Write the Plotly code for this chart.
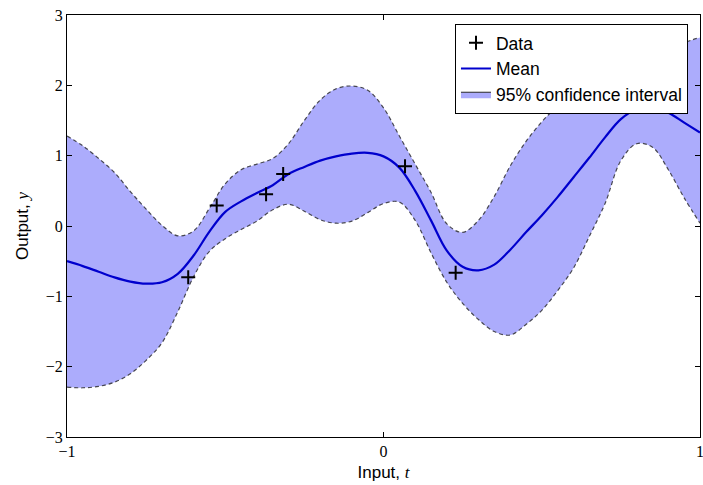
import plotly.graph_objects as go

# Grid of inputs at which curves were read
t_grid = [-1.00, -0.95, -0.90, -0.85, -0.80, -0.75, -0.70, -0.65, -0.60, -0.55,
          -0.50, -0.45, -0.40, -0.35, -0.30, -0.25, -0.20, -0.15, -0.10, -0.05,
          0.00, 0.05, 0.10, 0.15, 0.20, 0.25, 0.30, 0.35, 0.40, 0.45,
          0.50, 0.55, 0.60, 0.65, 0.70, 0.75, 0.80, 0.85, 0.90, 0.95, 1.00]

mean_vals = [-0.50, -0.57, -0.65, -0.73, -0.79, -0.82, -0.80, -0.68, -0.42, -0.08,
             0.20, 0.35, 0.47, 0.58, 0.74, 0.84, 0.93, 0.99, 1.03, 1.04,
             0.99, 0.83, 0.50, 0.08, -0.35, -0.58, -0.63, -0.55, -0.34, -0.09,
             0.15, 0.41, 0.69, 0.97, 1.26, 1.52, 1.66, 1.69, 1.61, 1.47, 1.33]

upper_vals = [1.28, 1.14, 0.96, 0.76, 0.49, 0.24, 0.01, -0.14, -0.07, 0.25,
              0.60, 0.80, 0.88, 0.96, 1.17, 1.50, 1.79, 1.95, 1.99, 1.93,
              1.68, 1.28, 0.88, 0.48, 0.03, -0.09, 0.08, 0.42, 0.85, 1.20,
              1.48, 1.72, 2.02, 2.11, 2.19, 2.12, 2.14, 2.24, 2.44, 2.60, 2.68]

lower_vals = [-2.29, -2.30, -2.28, -2.22, -2.10, -1.91, -1.66, -1.22, -0.72, -0.36,
              -0.18, -0.05, 0.07, 0.23, 0.31, 0.21, 0.09, 0.04, 0.07, 0.19,
              0.32, 0.34, 0.08, -0.38, -0.80, -1.10, -1.33, -1.50, -1.55, -1.40,
              -1.20, -0.92, -0.60, -0.15, 0.32, 0.93, 1.17, 1.12, 0.80, 0.40, 0.04]

data_t = [-0.617, -0.527, -0.371, -0.317, 0.068, 0.228, 0.817]
data_y = [-0.73, 0.29, 0.45, 0.74, 0.85, -0.665, 1.76]

x_ticks = [-1, 0, 1]
y_ticks = [-3, -2, -1, 0, 1, 2, 3]

band_fill = "rgb(172,172,252)"
band_edge = "rgb(70,70,80)"
mean_color = "rgb(0,0,205)"

fig = go.Figure()
fig.add_trace(go.Scatter(
    x=t_grid, y=lower_vals, mode="lines",
    line=dict(color=band_edge, width=1.2, dash="4px,3px", shape="spline", smoothing=1.0),
    showlegend=False, hoverinfo="skip"))
fig.add_trace(go.Scatter(
    x=t_grid, y=upper_vals, mode="lines", fill="tonexty", fillcolor=band_fill,
    line=dict(color=band_edge, width=1.2, dash="4px,3px", shape="spline", smoothing=1.0),
    showlegend=False, hoverinfo="skip"))
fig.add_trace(go.Scatter(
    x=t_grid, y=mean_vals, mode="lines",
    line=dict(color=mean_color, width=2.2, shape="spline", smoothing=1.0),
    name="Mean", legendrank=2))
fig.add_trace(go.Scatter(
    x=data_t, y=data_y, mode="markers",
    marker=dict(symbol="cross-thin", size=10, color="black",
                line=dict(color="black", width=2)),
    name="Data", legendrank=1))
# legend entry for the band (filled patch with outline)
fig.add_trace(go.Scatter(
    x=[None], y=[None], mode="lines", fill="toself", fillcolor=band_fill,
    line=dict(color="rgb(40,40,40)", width=1),
    name="95% confidence interval", legendrank=3))

sans = "Liberation Sans"
serif = "Liberation Serif"

fig.update_layout(
    width=703, height=485,
    margin=dict(l=67, r=3, t=15, b=48),
    paper_bgcolor="white", plot_bgcolor="white",
    font=dict(family=serif, size=16, color="black"),
    showlegend=True,
    legend=dict(
        x=0.981, y=0.979, xanchor="right", yanchor="top",
        traceorder="normal",
        bgcolor="white", bordercolor="black", borderwidth=1,
        font=dict(family=sans, size=17.5, color="black"),
        itemwidth=30, tracegroupgap=0,
    ),
    xaxis=dict(
        range=[-1, 1], tickvals=x_ticks, ticks="inside", ticklen=5,
        tickcolor="black", showline=True, linecolor="black", linewidth=1,
        mirror="ticks", showgrid=False, zeroline=False, automargin=False,
        tickfont=dict(family=serif, size=16), ticklabeloverflow="allow",
        title=dict(text="Input, <span style='font-family:Liberation Serif'><i>t</i></span>",
                   font=dict(family=sans, size=17), standoff=6),
    ),
    yaxis=dict(
        range=[-3, 3], tickvals=y_ticks, ticks="inside", ticklen=5,
        tickcolor="black", showline=True, linecolor="black", linewidth=1,
        mirror="ticks", showgrid=False, zeroline=False, automargin=False,
        tickfont=dict(family=serif, size=16), ticklabeloverflow="allow",
        title=dict(text="Output, <span style='font-family:Liberation Serif'><i>y</i></span>",
                   font=dict(family=sans, size=17), standoff=12),
    ),
)

fig.write_html("out.html", config={"displayModeBar": False},
               post_script="document.body.style.margin='0';document.body.style.overflow='hidden';")
